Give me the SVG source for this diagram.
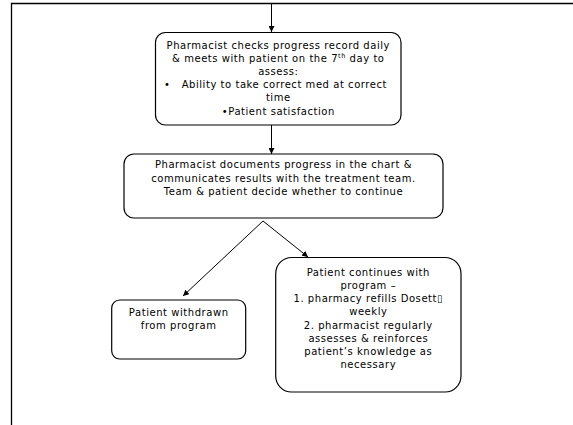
<svg xmlns="http://www.w3.org/2000/svg" width="573" height="425" viewBox="0 0 573 425">
<style>
.box{fill:#fff;stroke:#000;stroke-width:1.2}
.t{font-family:"DejaVu Sans",Verdana,sans-serif;font-size:10px;letter-spacing:0.55px;fill:#000;text-anchor:middle}
.c{stroke:#000;stroke-width:1;fill:none}
</style>
<defs>
<marker id="ah" viewBox="0 0 10 10" refX="10" refY="5" markerWidth="6" markerHeight="6" markerUnits="userSpaceOnUse" orient="auto">
<path d="M0,0 L10,5 L0,10 z" fill="#000"/>
</marker>
</defs>
<rect width="573" height="425" fill="#fff"/>
<g id="frame">
<path d="M11.5,425 V3.5 H573" fill="none" stroke="#000" stroke-width="1.3"/>
</g>
<g id="connectors">
<line class="c" x1="271.5" y1="4" x2="271.5" y2="32" marker-end="url(#ah)"/>
<line class="c" x1="271.5" y1="125" x2="271.5" y2="154" marker-end="url(#ah)"/>
<line class="c" x1="263" y1="221" x2="183" y2="296" marker-end="url(#ah)"/>
<line class="c" x1="263" y1="221" x2="308" y2="257" marker-end="url(#ah)"/>
</g>
<g id="n1">
<rect class="box" x="155.5" y="32.5" width="245.5" height="92.5" rx="10"/>
<text class="t" x="278.3" y="48.6">Pharmacist checks progress record daily</text>
<text class="t" x="278.3" y="61.8">&amp; meets with patient on the 7<tspan font-size="6.5" dy="-3.5">th</tspan><tspan dy="3.5"> day to</tspan></text>
<text class="t" x="278.3" y="75">assess:</text>
<text class="t" x="275.5" y="88.2">•&#160;&#160;&#160;Ability to take correct med at correct</text>
<text class="t" x="278.3" y="101.4">time</text>
<text class="t" x="278.3" y="114.6">•Patient satisfaction</text>
</g>
<g id="n2">
<rect class="box" x="124" y="154" width="319" height="64" rx="10"/>
<text class="t" x="283.5" y="168.2">Pharmacist documents progress in the chart &amp;</text>
<text class="t" x="283.5" y="181.8">communicates results with the treatment team.</text>
<text class="t" x="283.5" y="195.4">Team &amp; patient decide whether to continue</text>
</g>
<g id="n3">
<rect class="box" x="111.7" y="300" width="134" height="59" rx="8"/>
<text class="t" x="178.7" y="315.7">Patient withdrawn</text>
<text class="t" x="178.7" y="328.7">from program</text>
</g>
<g id="n4">
<rect class="box" x="275.7" y="257.5" width="185.3" height="134.5" rx="16"/>
<text class="t" x="368.3" y="275.8">Patient continues with</text>
<text class="t" x="368.3" y="289">program –</text>
<text class="t" x="368.3" y="302.2">1. pharmacy refills Dosett▯</text>
<text class="t" x="368.3" y="315.4">weekly</text>
<text class="t" x="368.3" y="328.6">2. pharmacist regularly</text>
<text class="t" x="368.3" y="341.8">assesses &amp; reinforces</text>
<text class="t" x="368.3" y="355">patient’s knowledge as</text>
<text class="t" x="368.3" y="368.2">necessary</text>
</g>
</svg>
